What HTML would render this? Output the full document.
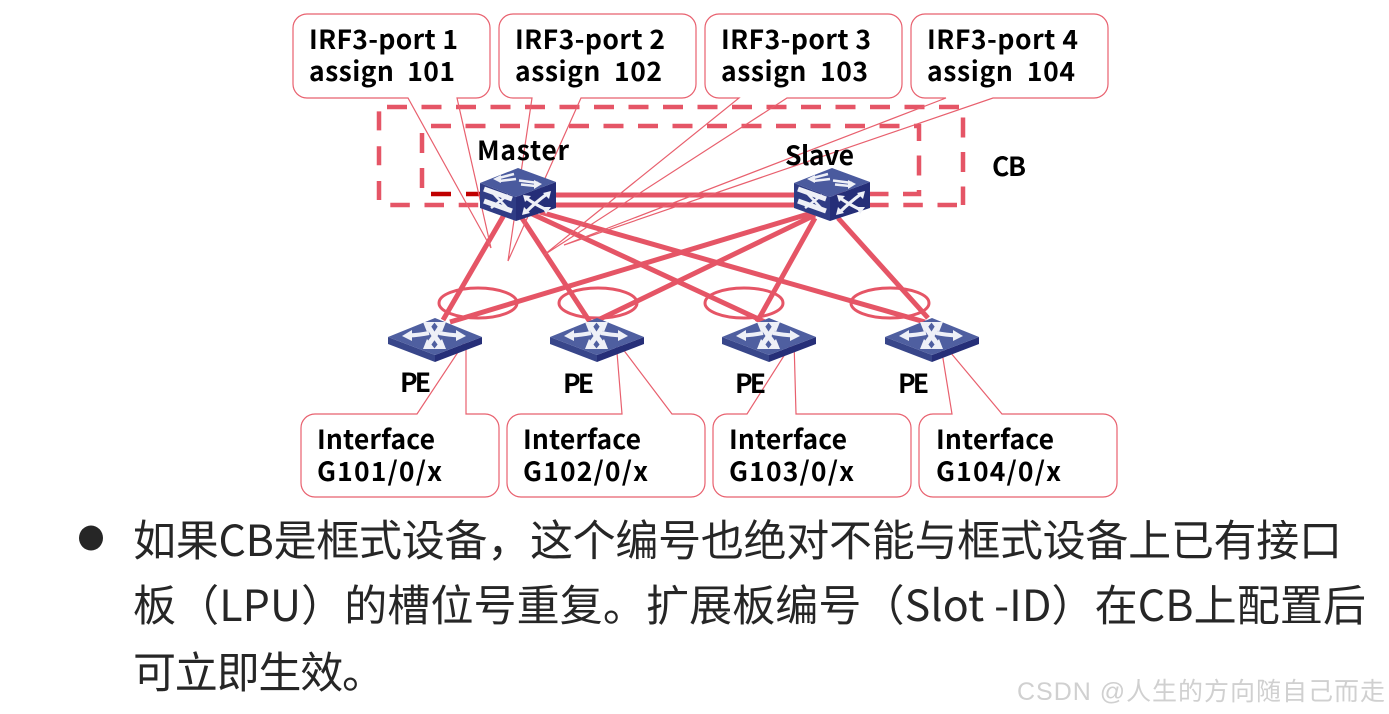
<!DOCTYPE html>
<html><head><meta charset="utf-8"><style>
html,body{margin:0;padding:0;background:#fff;width:1389px;height:714px;overflow:hidden}
svg{display:block}
.b{font-family:"Noto Sans CJK SC","Liberation Sans",sans-serif;font-weight:700;font-size:26.5px;fill:#000}
.t{font-family:"Noto Sans CJK SC","Liberation Sans",sans-serif;font-size:43px;fill:#262626}
.w{font-family:"Liberation Sans","Noto Sans CJK SC",sans-serif;font-size:25px;fill:#d0d0d0}
.c{fill:none;stroke:#e8606e;stroke-width:1.2}
</style></head><body>
<svg width="1389" height="714" viewBox="0 0 1389 714" xmlns="http://www.w3.org/2000/svg">
<defs>
<g id="sw">
<polygon points="480,183 516,197 516,221 480,208" fill="#2f3c85"/>
<polygon points="516,197 556,182 556,208 516,221" fill="#252e78"/>
<polygon points="480,183 518,168 556,182 516,197" fill="#4a5a9e"/>
<g stroke="#eef0f7" fill="none">
<path d="M497,178.500L514,174M499,181L516,179M538,183L519,180.500M536,186L521,184.500" stroke-width="2.600"/>
<path d="M484,189L512,199M484,201L512,211" stroke-width="5"/>
<path d="M491,191L508,209M491,208L508,195" stroke-width="2.600"/>
<path d="M526,198Q536,205 547,210M526,212Q536,202 547,194" stroke-width="3.200"/>
</g>
<g fill="#eef0f7">
<polygon points="493,179 501,175 501,183"/>
<polygon points="542,184 534,180 534,189"/>
<polygon points="523,195 531,196 525,202"/>
<polygon points="551,191 549,199 543,193"/>
<polygon points="522,215 524,207 530,213"/>
<polygon points="551,207 546,214 542,207"/>
</g>
</g>
<g id="pe">
<polygon points="388,337 435,355 435,362 388,344" fill="#38468a"/>
<polygon points="435,355 482,337 482,344 435,362" fill="#262f78"/>
<polygon points="388,337 435,318 482,337 435,355" fill="#4f5fa0"/>
<g stroke="#eef0f7" fill="none" stroke-width="4">
<path d="M408,335.500Q420,335 429,333M460,335.500Q449,335 439,333"/>
<path d="M428,326Q434,336 441,345M441,326Q435,336 428,345" stroke-width="5"/>
</g>
<g fill="#eef0f7">
<polygon points="402,336 412,330 412,341"/>
<polygon points="466,336 456,330 456,341"/>
<polygon points="423,322 435,322 427,332"/>
<polygon points="446,322 434,322 442,332"/>
<polygon points="423,349 435,349 427,339"/>
<polygon points="446,349 434,349 442,339"/>
</g>
</g>
</defs>

<g fill="none" stroke="#e55566" stroke-width="4.500">
<path d="M387,107H963V205" stroke-dasharray="20 14.5"/>
<path d="M957,205H379" stroke-dasharray="19.500 14.700"/>
<path d="M379,200V107" stroke-dasharray="19 15.800"/>
<path d="M431,126H919V194H800" stroke-dasharray="20 14.500"/>
<path d="M422,188V168M422,153V133"/>
</g>
<path d="M431,194h20M466,194h14" stroke="#c00000" stroke-width="4.500" fill="none"/>

<g stroke="#e55566" stroke-width="5" fill="none">
<path d="M550,195H800M550,205H800"/>
<path d="M504,215L443,320M520,215L590,322M530,213L765,322M540,212L925,322"/>
<path d="M815,212L450,322M815,215L598,320M815,218L757,322M838,218L928,318"/>
</g>
<g fill="none" stroke="#e55566" stroke-width="3">
<ellipse cx="478" cy="303" rx="39" ry="15"/>
<ellipse cx="598" cy="303" rx="39" ry="15"/>
<ellipse cx="744" cy="303" rx="39" ry="15"/>
<ellipse cx="890" cy="303" rx="39" ry="15"/>
</g>

<path class="c" d="M307,14H476a14,14 0 0 1 14,14V84a14,14 0 0 1 -14,14H457L491,248L408,98H307a14,14 0 0 1 -14,-14V28a14,14 0 0 1 14,-14z"/>
<path class="c" d="M513,14H682a14,14 0 0 1 14,14V84a14,14 0 0 1 -14,14H581L508,261L532,98H513a14,14 0 0 1 -14,-14V28a14,14 0 0 1 14,-14z"/>
<path class="c" d="M719,14H888a14,14 0 0 1 14,14V84a14,14 0 0 1 -14,14H787L544,255L739,98H719a14,14 0 0 1 -14,-14V28a14,14 0 0 1 14,-14z"/>
<path class="c" d="M925,14H1094a14,14 0 0 1 14,14V84a14,14 0 0 1 -14,14H993L564,245L946,98H925a14,14 0 0 1 -14,-14V28a14,14 0 0 1 14,-14z"/>

<path class="c" d="M315,414H417L466,340L466,414H485a14,14 0 0 1 14,14V483a14,14 0 0 1 -14,14H315a14,14 0 0 1 -14,-14V428a14,14 0 0 1 14,-14z"/>
<path class="c" d="M521,414H622L616,340L672,414H691a14,14 0 0 1 14,14V483a14,14 0 0 1 -14,14H521a14,14 0 0 1 -14,-14V428a14,14 0 0 1 14,-14z"/>
<path class="c" d="M727,414H747L794,340L796,414H897a14,14 0 0 1 14,14V483a14,14 0 0 1 -14,14H727a14,14 0 0 1 -14,-14V428a14,14 0 0 1 14,-14z"/>
<path class="c" d="M933,414H952L940,340L1002,414H1103a14,14 0 0 1 14,14V483a14,14 0 0 1 -14,14H933a14,14 0 0 1 -14,-14V428a14,14 0 0 1 14,-14z"/>

<use href="#sw"/>
<use href="#sw" x="314"/>
<use href="#pe"/>
<use href="#pe" x="162"/>
<use href="#pe" x="334"/>
<use href="#pe" x="497"/>

<text class="b" x="309" y="49" textLength="149" lengthAdjust="spacing">IRF3-port 1</text>
<text class="b" x="309" y="81" textLength="146" lengthAdjust="spacing" xml:space="preserve">assign  101</text>
<text class="b" x="515" y="49" textLength="150" lengthAdjust="spacing">IRF3-port 2</text>
<text class="b" x="515" y="81" textLength="147" lengthAdjust="spacing" xml:space="preserve">assign  102</text>
<text class="b" x="721" y="49" textLength="150" lengthAdjust="spacing">IRF3-port 3</text>
<text class="b" x="721" y="81" textLength="147" lengthAdjust="spacing" xml:space="preserve">assign  103</text>
<text class="b" x="927" y="49" textLength="151" lengthAdjust="spacing">IRF3-port 4</text>
<text class="b" x="927" y="81" textLength="148" lengthAdjust="spacing" xml:space="preserve">assign  104</text>
<text class="b" x="477" y="160" textLength="92" lengthAdjust="spacing">Master</text>
<text class="b" x="785" y="165" textLength="69" lengthAdjust="spacing">Slave</text>
<text class="b" x="992" y="176" textLength="34" lengthAdjust="spacing">CB</text>
<text class="b" x="400" y="392" textLength="31" lengthAdjust="spacing">PE</text>
<text class="b" x="563" y="393" textLength="31" lengthAdjust="spacing">PE</text>
<text class="b" x="735" y="393" textLength="31" lengthAdjust="spacing">PE</text>
<text class="b" x="898" y="393" textLength="31" lengthAdjust="spacing">PE</text>
<text class="b" x="317" y="449" textLength="118" lengthAdjust="spacing">Interface</text>
<text class="b" x="317" y="481" textLength="125" lengthAdjust="spacing">G101/0/x</text>
<text class="b" x="523" y="449" textLength="118" lengthAdjust="spacing">Interface</text>
<text class="b" x="523" y="481" textLength="125" lengthAdjust="spacing">G102/0/x</text>
<text class="b" x="729" y="449" textLength="118" lengthAdjust="spacing">Interface</text>
<text class="b" x="729" y="481" textLength="125" lengthAdjust="spacing">G103/0/x</text>
<text class="b" x="936" y="449" textLength="118" lengthAdjust="spacing">Interface</text>
<text class="b" x="936" y="481" textLength="125" lengthAdjust="spacing">G104/0/x</text>

<ellipse cx="91" cy="538" rx="12" ry="12.500" fill="#262626"/>
<text class="t" x="133" y="556" textLength="1209" lengthAdjust="spacing">如果CB是框式设备，这个编号也绝对不能与框式设备上已有接口</text>
<text class="t" x="133" y="621" textLength="1233" lengthAdjust="spacing">板（LPU）的槽位号重复。扩展板编号（Slot -ID）在CB上配置后</text>
<text class="t" x="133" y="688" textLength="252" lengthAdjust="spacing">可立即生效。</text>
<text class="w" x="1017" y="700" textLength="368" lengthAdjust="spacing">CSDN @人生的方向随自己而走</text>
</svg>
</body></html>
